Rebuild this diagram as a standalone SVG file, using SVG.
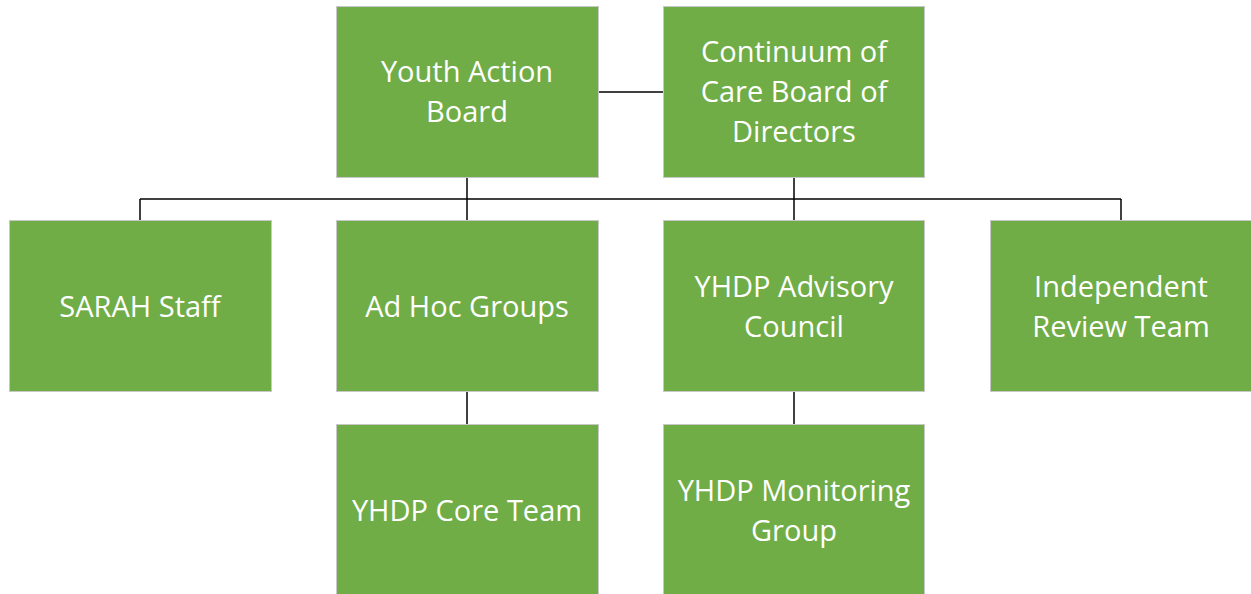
<svg xmlns="http://www.w3.org/2000/svg" width="1251" height="594" viewBox="0 0 1251 594">
<style>
.box{fill:#70AD47;stroke:#c8c8c8;stroke-width:1}
.lbl{fill:#ffffff;font-family:"Open Sans","Noto Sans",sans-serif;font-size:29px;text-anchor:middle}
.conn{stroke:#000000;stroke-width:1.5;fill:none}
</style>
<rect width="1251" height="594" fill="#ffffff"/>
<g id="connectors">
<line class="conn" x1="598" y1="92" x2="663" y2="92"/>
<line class="conn" x1="140" y1="199" x2="1121" y2="199"/>
<line class="conn" x1="467" y1="177" x2="467" y2="220"/>
<line class="conn" x1="794" y1="177" x2="794" y2="220"/>
<line class="conn" x1="140" y1="199" x2="140" y2="220"/>
<line class="conn" x1="1121" y1="199" x2="1121" y2="220"/>
<line class="conn" x1="467" y1="391" x2="467" y2="424"/>
<line class="conn" x1="794" y1="391" x2="794" y2="424"/>
</g>
<g id="youth-action-board">
<rect class="box" x="336.5" y="6.5" width="262" height="171"/>
<text class="lbl" x="467" y="82">Youth Action</text>
<text class="lbl" x="467" y="122">Board</text>
</g>
<g id="coc-board">
<rect class="box" x="663.5" y="6.5" width="261" height="171"/>
<text class="lbl" x="794" y="62">Continuum of</text>
<text class="lbl" x="794" y="102">Care Board of</text>
<text class="lbl" x="794" y="142">Directors</text>
</g>
<g id="sarah-staff">
<rect class="box" x="9.5" y="220.5" width="262" height="171"/>
<text class="lbl" x="140" y="317">SARAH Staff</text>
</g>
<g id="ad-hoc-groups">
<rect class="box" x="336.5" y="220.5" width="262" height="171"/>
<text class="lbl" x="467" y="317">Ad Hoc Groups</text>
</g>
<g id="yhdp-advisory-council">
<rect class="box" x="663.5" y="220.5" width="261" height="171"/>
<text class="lbl" x="794" y="297">YHDP Advisory</text>
<text class="lbl" x="794" y="337">Council</text>
</g>
<g id="independent-review-team">
<rect class="box" x="990.5" y="220.5" width="261" height="171"/>
<text class="lbl" x="1121" y="297">Independent</text>
<text class="lbl" x="1121" y="337">Review Team</text>
</g>
<g id="yhdp-core-team">
<rect class="box" x="336.5" y="424.5" width="262" height="171"/>
<text class="lbl" x="467" y="521">YHDP Core Team</text>
</g>
<g id="yhdp-monitoring-group">
<rect class="box" x="663.5" y="424.5" width="261" height="171"/>
<text class="lbl" x="794" y="501">YHDP Monitoring</text>
<text class="lbl" x="794" y="541">Group</text>
</g>
</svg>
